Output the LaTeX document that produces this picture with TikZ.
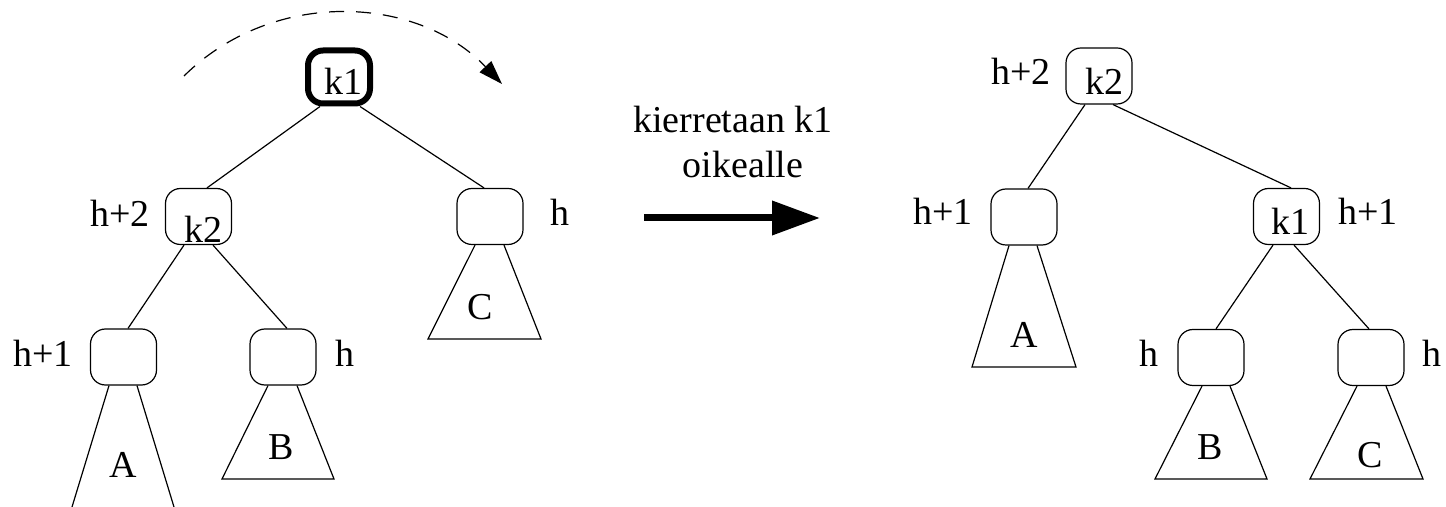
\documentclass[tikz,border=0pt]{standalone}
\usepackage{fontspec}
\setmainfont{Liberation Serif}
\usetikzlibrary{arrows.meta}

\tikzset{
  keybox/.style={draw,line width=0.6pt,rounded corners=7.5pt,minimum width=33pt,minimum height=28pt,inner sep=0pt},
  rootbox/.style={keybox,line width=3pt,minimum width=31pt,minimum height=26.5pt},
  txt/.style={font=\fontsize{19}{22.5}\selectfont,inner sep=0pt},
  edge/.style={line width=0.6pt},
}

\begin{document}
\begin{tikzpicture}[x=0.5pt,y=-0.5pt]
  \useasboundingbox (0,0) rectangle (1446,507);

  % left tree, before the rotation
  \node[rootbox] (k1L) at (339,77) {};
  \node[keybox] (k2L) at (198.5,216.5) {};
  \node[keybox] (cL) at (490,216.5) {};
  \node[keybox] (aL) at (123.5,357) {};
  \node[keybox] (bL) at (283,357) {};
  \node[txt,anchor=base] (k1Ltxt) at (343.5,95) {k1};
  \node[txt,anchor=base] (k2Ltxt) at (203.5,243) {k2};

  \draw[edge] ([xshift=-9.5pt]k1L.south) -- ([xshift=4.25pt]k2L.north);
  \draw[edge] ([xshift=10.5pt]k1L.south) -- ([xshift=-3pt]cL.north);
  \draw[edge] ([xshift=-7.25pt]k2L.south) -- ([xshift=2.25pt]aL.north);
  \draw[edge] ([xshift=7.25pt]k2L.south) -- ([xshift=2pt]bL.north);

  % subtrees
  \draw[edge] ([xshift=-7.25pt]aL.south) -- (72,507);
  \draw[edge] ([xshift=6.75pt]aL.south) -- (174,507);
  \draw[edge] ([xshift=-7.5pt]bL.south) -- (222,479) -- (334,479) -- ([xshift=7pt]bL.south);
  \draw[edge] ([xshift=-7.5pt]cL.south) -- (428,339) -- (541,339) -- ([xshift=7pt]cL.south);
  \node[txt,anchor=base] (subAL) at (123.5,478) {A};
  \node[txt,anchor=base] (subBL) at (281,460) {B};
  \node[txt,anchor=base] (subCL) at (480,320) {C};

  % heights
  \node[txt,anchor=base east] (hk2L) at (150,227) {h+2};
  \node[txt,anchor=base west] (hcL) at (550,226) {h};
  \node[txt,anchor=base east] (haL) at (73,367) {h+1};
  \node[txt,anchor=base west] (hbL) at (335,367) {h};

  % rotation
  \coordinate (arcS) at (184,76);
  \coordinate (arcE) at (502,84);
  \draw[edge,dash pattern=on 7.5pt off 6pt,-{Triangle[length=12pt,width=8pt]}]
    (arcS) .. controls (272,-11) and (416,-6) .. (arcE);

  \node[txt,anchor=base] (rotA) at (733,133) {kierretaan k1};
  \node[txt,anchor=base] (rotB) at (743,178) {oikealle};
  \coordinate (arrS) at (644,218);
  \coordinate (arrE) at (820,218);
  \draw[line width=3.5pt,-{Triangle[length=24pt,width=16.5pt]}] (arrS) -- (arrE);

  % right tree, after the rotation
  \node[keybox] (k2R) at (1099,76) {};
  \node[keybox] (aR) at (1024,217) {};
  \node[keybox] (k1R) at (1286.5,216.5) {};
  \node[keybox] (bR) at (1211,357.5) {};
  \node[keybox] (cR) at (1371,357.5) {};
  \node[txt,anchor=base] (k2Rtxt) at (1104,95) {k2};
  \node[txt,anchor=base] (k1Rtxt) at (1290,235) {k1};

  \draw[edge] ([xshift=-7pt]k2R.south) -- ([xshift=2pt]aR.north);
  \draw[edge] ([xshift=7pt]k2R.south) -- ([xshift=2.25pt]k1R.north);
  \draw[edge] ([xshift=-6.75pt]k1R.south) -- ([xshift=2.5pt]bR.north);
  \draw[edge] ([xshift=3.75pt]k1R.south) -- ([xshift=-1pt]cR.north);

  \draw[edge] ([xshift=-7.5pt]aR.south) -- (972,367) -- (1076,367) -- ([xshift=6.5pt]aR.south);
  \draw[edge] ([xshift=-4.5pt]bR.south) -- (1155,479) -- (1267,479) -- ([xshift=9.5pt]bR.south);
  \draw[edge] ([xshift=-7pt]cR.south) -- (1310,479) -- (1423,479) -- ([xshift=7.5pt]cR.south);
  \node[txt,anchor=base] (subAR) at (1024,348) {A};
  \node[txt,anchor=base] (subBR) at (1210,459) {B};
  \node[txt,anchor=base] (subCR) at (1370,468) {C};

  \node[txt,anchor=base east] (hk2R) at (1051,85) {h+2};
  \node[txt,anchor=base east] (haR) at (973,225) {h+1};
  \node[txt,anchor=base west] (hk1R) at (1338,225) {h+1};
  \node[txt,anchor=base east] (hbR) at (1159,367) {h};
  \node[txt,anchor=base west] (hcR) at (1422,367) {h};
\end{tikzpicture}
\end{document}
